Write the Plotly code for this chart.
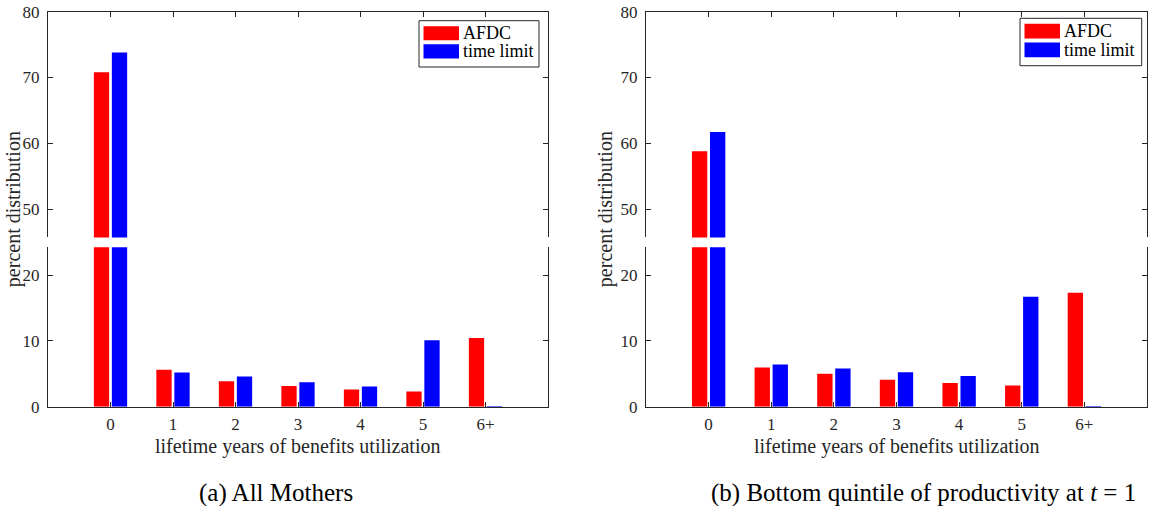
import plotly.graph_objects as go

VW, VH = 1151, 506
OFF = 0  # body margin is reset to 0 in the page (see write_html below)
W, H = VW - OFF, VH - OFF

categories = ["0", "1", "2", "3", "4", "5", "6+"]
series_names = ["AFDC", "time limit"]
series_colors = ["#ff0000", "#0000ff"]

afdc_all = [70.8, 5.6, 3.85, 3.15, 2.6, 2.3, 10.45]
tlim_all = [73.8, 5.2, 4.6, 3.7, 3.05, 10.1, 0.1]
afdc_bottom = [58.8, 5.95, 5.0, 4.1, 3.6, 3.2, 17.3]
tlim_bottom = [61.7, 6.4, 5.8, 5.25, 4.65, 16.7, 0.1]

low_range = [0, 24.2]
high_range = [45.7, 80]
low_ticks = [0, 10, 20]
high_ticks = [50, 60, 70, 80]

x_label = "lifetime years of benefits utilization"
y_label = "percent distribution"
captions = ["(a) All Mothers", "(b) Bottom quintile of productivity at <i>t</i> = 1"]

FONT = "Liberation Serif, Tinos, 'Times New Roman', serif"
AX = "#262626"


def px(x):
    return (x - OFF) / W


def py(y):
    return 1 - (y - OFF) / H


T, B = 11.6, 406.7
s = (B - T) / 60.0
low_top = B - low_range[1] * s
high_bot = T + (80 - high_range[0]) * s

panels = [
    dict(x0=48, x1=548, data=[afdc_all, tlim_all], ylab_x=13,
         cap_x=276, leg=(419, 539, 20.7, 67)),
    dict(x0=646, x1=1147, data=[afdc_bottom, tlim_bottom], ylab_x=605,
         cap_x=924, leg=(1020, 1141.7, 18.3, 65.7)),
]

xpos = list(range(len(categories)))

fig = go.Figure()
layout = {}
shapes = []
annotations = []

for p_i, pan in enumerate(panels):
    for seg in range(2):  # 0 lower, 1 upper
        idx = p_i * 2 + seg + 1
        xa = "x" if idx == 1 else f"x{idx}"
        ya = "y" if idx == 1 else f"y{idx}"
        for k in range(2):
            fig.add_trace(go.Bar(
                x=xpos, y=pan["data"][k], name=series_names[k],
                marker=dict(color=series_colors[k], line=dict(width=0)),
                xaxis=xa, yaxis=ya, showlegend=False,
            ))
        xkey = "xaxis" if idx == 1 else f"xaxis{idx}"
        ykey = "yaxis" if idx == 1 else f"yaxis{idx}"
        dom_x = [px(pan["x0"]), px(pan["x1"])]
        if seg == 0:
            dom_y = [py(B), py(low_top)]
        else:
            dom_y = [py(high_bot), py(T)]
        layout[xkey] = dict(
            domain=dom_x, range=[-1, 7], anchor=ya, automargin=False,
            tickmode="array", tickvals=xpos, ticktext=categories,
            ticks="inside", ticklen=5, tickcolor=AX,
            showline=True, linecolor=AX, linewidth=1,
            showgrid=False, zeroline=False, fixedrange=True,
            side="bottom" if seg == 0 else "top",
            showticklabels=(seg == 0),
            tickfont=dict(family=FONT, size=17, color=AX),
            ticklabelstandoff=2, ticklabeloverflow="allow",
            layer="below traces",
        )
        layout[ykey] = dict(
            domain=dom_y, anchor=xa, automargin=False,
            range=low_range if seg == 0 else high_range,
            tickmode="array", tickvals=low_ticks if seg == 0 else high_ticks,
            ticks="inside", ticklen=5, tickcolor=AX,
            showline=True, linecolor=AX, linewidth=1, mirror="ticks",
            showgrid=False, zeroline=False, fixedrange=True,
            tickfont=dict(family=FONT, size=17, color=AX),
            ticklabelstandoff=4, ticklabeloverflow="allow",
            layer="below traces",
        )

    cx = (pan["x0"] + pan["x1"]) / 2
    annotations.append(dict(
        text=x_label, x=px(cx), y=py(446), xref="paper", yref="paper",
        xanchor="center", yanchor="middle", showarrow=False,
        font=dict(family=FONT, size=20, color=AX)))
    annotations.append(dict(
        text=y_label, x=px(pan["ylab_x"]), y=py((T + B) / 2), xref="paper",
        yref="paper", xanchor="center", yanchor="middle", showarrow=False,
        textangle=-90, font=dict(family=FONT, size=20, color=AX)))
    annotations.append(dict(
        text=captions[p_i], x=px(pan["cap_x"]), y=py(493), xref="paper",
        yref="paper", xanchor="center", yanchor="middle", showarrow=False,
        font=dict(family=FONT, size=25, color="#000000")))

    lx0, lx1, ly0, ly1 = pan["leg"]
    shapes.append(dict(type="rect", xref="paper", yref="paper",
                       x0=px(lx0), x1=px(lx1), y0=py(ly1), y1=py(ly0),
                       line=dict(color=AX, width=1), fillcolor="white"))
    hh = (ly1 - ly0)
    for k in range(2):
        sy0 = ly0 + 5 + k * (hh - 10) / 2 + 0.5
        sy1 = sy0 + (hh - 10) / 2 - 4
        shapes.append(dict(type="rect", xref="paper", yref="paper",
                           x0=px(lx0 + 4.5), x1=px(lx0 + 40), y0=py(sy1), y1=py(sy0),
                           line=dict(width=0), fillcolor=series_colors[k]))
        annotations.append(dict(
            text=series_names[k], x=px(lx0 + 42), y=py((sy0 + sy1) / 2),
            xref="paper", yref="paper", xanchor="left", yanchor="middle",
            showarrow=False, font=dict(family=FONT, size=18, color="#000000")))

fig.update_layout(
    width=W, height=H, margin=dict(l=0, r=0, t=0, b=0, autoexpand=False),
    paper_bgcolor="white", plot_bgcolor="white",
    barmode="group", bargap=0.424, bargroupgap=0.15,
    shapes=shapes, annotations=annotations, showlegend=False,
    hovermode=False,
    **layout,
)

fig.write_html("out.html",
               config={"displayModeBar": False, "staticPlot": True},
               post_script="document.body.style.margin='0';document.body.style.overflow='hidden';")
